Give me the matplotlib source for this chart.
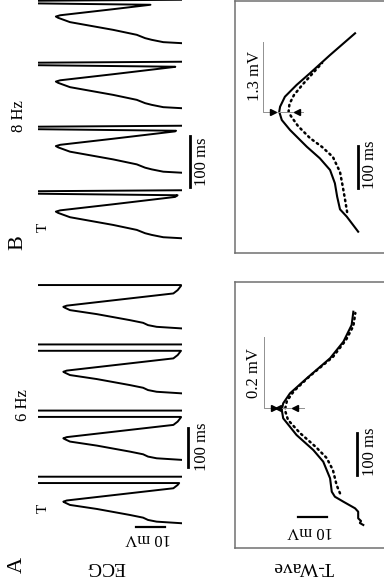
import numpy as np
import matplotlib
matplotlib.use("Agg")
import matplotlib.pyplot as plt

plt.rcParams['font.family'] = ['Liberation Serif', 'DejaVu Serif']

W, H = 384, 586

# ---- ECG beat templates (time from T peak in ms, voltage in mV) ----
ecg_a_dt = [-56.8, -54.5, -50.5, -46.2, -40.4, -33.6, -18.4, -8.3, -2.5, 0.0, 3.0, 33.8, 42.2, 53.0, 65.7]
ecg_a_v = [-1.4, 0.1, 8.8, 11.8, 13.5, 18.1, 29.6, 38.9, 40.6, 41.2, 40.0, 3.0, 1.5, 0.35, 0.17]
ecg_b_dt = [-53.7, -52.0, -50.0, -45.5, -42.2, -35.7, -26.0, -10.9, -2.5, 0.0, 2.5, 14.3, 28.7, 35.2, 43.0]
ecg_b_v = [-1.4, 0.1, 6.5, 10.5, 12.8, 15.7, 23.9, 38.9, 43.0, 43.8, 42.3, 24.0, 2.4, 0.7, 0.2]

# T peak and pacing spike times (ms)
a_peaks = [213, 373, 541, 705]
a_spikes = [260, 427, 594, 760]
b_peaks = [114, 242, 368, 495]
b_spikes = [146, 272, 397, 518]

# ---- T-wave panels (time ms, voltage mV) ----
tw_a_t = [54.8, 59.5, 64.3, 70.7, 86.4, 94.5, 110.2, 122.1, 134.0, 166.0, 205.5, 233.3,
          269.0, 308.8, 328.6, 344.5, 368.3, 404.0, 451.7, 491.2, 531.0, 562.6]
tw_a_v = [0.6, 1.8, 1.4, 2.4, 2.4, 3.5, 7.6, 10.6, 11.7, 12.3, 14.7, 18.2,
          24.1, 28.8, 29.3, 28.8, 26.4, 20.5, 12.3, 7.6, 4.7, 4.1]
tw_a_dot_t = [130.2, 150.0, 185.7, 214.3, 240.5, 273.8, 304.8, 328.6, 350.0, 373.8,
              409.5, 454.8, 495.2, 528.6, 559.5]
tw_a_dot_v = [8.8, 10.0, 11.3, 13.5, 17.3, 22.9, 27.1, 28.2, 27.5, 25.0,
              19.4, 11.3, 6.7, 4.1, 3.4]
tw_b_t = [50.7, 86.4, 104.0, 134.0, 166.0, 197.6, 225.5, 253.1, 292.9, 316.7, 336.4,
          348.3, 372.1, 400.0, 427.9, 471.4, 523.1]
tw_b_v = [2.4, 6.4, 8.8, 9.8, 10.6, 12.3, 15.9, 20.5, 26.4, 29.3, 30.2,
          29.9, 28.2, 24.1, 19.4, 12.3, 3.5]
tw_b_dot_t = [97.6, 126.2, 157.1, 192.9, 228.6, 252.4, 273.8, 302.4, 326.2, 336.4,
              354.8, 376.2, 402.4, 428.6, 452.4]
tw_b_dot_v = [6.3, 7.0, 7.8, 8.8, 11.3, 15.1, 19.4, 23.6, 26.1, 26.9,
              26.6, 25.0, 21.8, 18.3, 15.1]


def px_axes(fig, x0, y0, x1, y1):
    return fig.add_axes([x0 / W, 1 - y1 / H, (x1 - x0) / W, (y1 - y0) / H])


def build_trace(peaks, spikes, dt, v, width, vshape):
    t_all, v_all = [], []
    for tp, ts in zip(peaks, spikes):
        tt = tp + np.array(dt)
        vv = np.array(v)
        keep = tt < ts
        t_all += list(tt[keep]) + [ts]
        v_all += list(vv[keep]) + [np.interp(ts, tt, vv)]
        if vshape:
            t_all += [ts + width / 2, ts + width]
            v_all += [100, -60]
        else:
            t_all += [ts, ts + width, ts + width]
            v_all += [120, 120, -120]
    return t_all, v_all


def ftext(x, y, s, rot, size):
    fig.text(x / W, 1 - y / H, s, rotation=rot, fontsize=size,
             ha='center', va='center')


fig = plt.figure(figsize=(W / 100, H / 100), dpi=100)
fig.patch.set_facecolor('white')

# ECG panels
ax_ea = px_axes(fig, 38, 282, 182, 586)
ax_eb = px_axes(fig, 38, 0, 182, 270)
for ax, peaks, spikes, dt, v, w, vs, top in [
        (ax_ea, a_peaks, a_spikes, ecg_a_dt, ecg_a_v, 16, False, 767.7),
        (ax_eb, b_peaks, b_spikes, ecg_b_dt, ecg_b_v, 12, True, 527.3)]:
    t, vv = build_trace(peaks, spikes, dt, v, w, vs)
    ax.plot(vv, t, color='black', lw=1.4, solid_joinstyle='round')
    ax.set_xlim(50, 0)
    ax.set_ylim(0, top)
    ax.axis('off')

# ECG scale bars
ax_ea.plot([-2.1, -2.1], [300, 400], color='black', lw=2, clip_on=False)
ax_ea.plot([5.9, 15.9], [150, 150], color='black', lw=1.6, clip_on=False)
ax_eb.plot([-2.8, -2.8], [162, 262], color='black', lw=2, clip_on=False)

# T-wave panels
ax_ta = px_axes(fig, 235, 282, 384, 548)
ax_tb = px_axes(fig, 235, 1, 384, 253)
for ax, t, v, td, vd, top in [(ax_ta, tw_a_t, tw_a_v, tw_a_dot_t, tw_a_dot_v, 633.3),
                              (ax_tb, tw_b_t, tw_b_v, tw_b_dot_t, tw_b_dot_v, 600)]:
    ax.plot(vd, td, color='black', lw=1.8, ls=(0, (0.6, 1.6)), dash_capstyle='round')
    ax.plot(v, t, color='black', lw=1.5)
    ax.set_xlim(45.77, -6.69)
    ax.set_ylim(0, top)
    ax.set_xticks([])
    ax.set_yticks([])
    ax.spines['right'].set_visible(False)
    for s in ['left', 'top', 'bottom']:
        ax.spines[s].set_color('#707070')
        ax.spines[s].set_linewidth(1.1)

# scale bars in T-wave panels
ax_ta.plot([2.9, 2.9], [174, 274], color='black', lw=2)
ax_ta.plot([13.5, 23.5], [74.5, 74.5], color='black', lw=1.6)
ax_tb.plot([2.4, 2.4], [154, 254], color='black', lw=2)

# difference markers
ax_ta.plot([35.7, 35.7, 21.6], [503, 333.3, 333.3], color='#909090', lw=0.7)
ax_ta.plot([32.0], [333.3], marker='>', color='black', ms=5)
ax_ta.plot([30.6], [333.3], marker='<', color='black', ms=5)
ax_ta.plot([24.8], [333.3], marker='<', color='black', ms=5)
ax_tb.plot([35.9, 35.9, 21.8], [502, 336.4, 336.4], color='#909090', lw=0.7)
ax_tb.plot([32.4], [336.4], marker='>', color='black', ms=5)
ax_tb.plot([23.9], [336.4], marker='<', color='black', ms=5)

# labels
ftext(17, 565, 'A', 90, 16)
ftext(18, 243, 'B', 90, 16)
ftext(23, 405, '6 Hz', 90, 12)
ftext(19, 116, '8 Hz', 90, 12)
ftext(106, 567, 'ECG', 180, 14)
ftext(303, 567, 'T-Wave', 180, 14)
ftext(43, 508, 'T', 90, 11)
ftext(43, 227, 'T', 90, 11)
ftext(148, 538, '10 mV', 180, 12)
ftext(202, 447, '100 ms', 90, 12)
ftext(202, 162, '100 ms', 90, 12)
ftext(370, 452, '100 ms', 90, 12)
ftext(370, 165, '100 ms', 90, 12)
ftext(310, 531, '10 mV', 180, 12)
ftext(254, 373, '0.2 mV', 90, 12)
ftext(255, 76, '1.3 mV', 90, 12)

fig.savefig('out.png', dpi=100, facecolor='white')
plt.close(fig)
